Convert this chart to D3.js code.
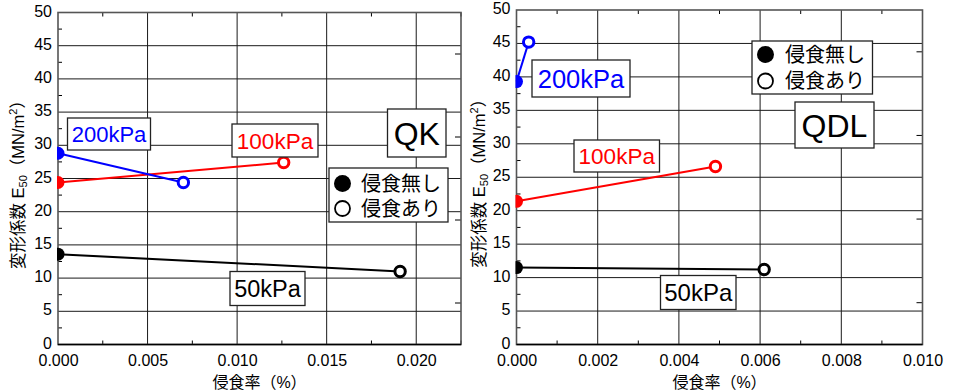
<!DOCTYPE html>
<html>
<head>
<meta charset="utf-8">
<script src="https://cdn.jsdelivr.net/npm/d3@7"></script>
<style>
  html, body { margin: 0; padding: 0; background: #fff; }
  svg { display: block; }
  text { font-family: "Liberation Sans", Arial, "Noto Sans CJK JP", sans-serif; }
</style>
</head>
<body>
<svg id="chart" width="958" height="392"></svg>
<script>
// Confining pressures (one line per pressure)
const pressures = ["50kPa", "100kPa", "200kPa"];

// QK: E50 before erosion (erosion rate 0) and after erosion
const qkIntactE50 = [13.6, 24.4, 28.8];
const qkErodedE50 = [11.0, 27.4, 24.4];
const qkErodedRate = [0.0191, 0.0126, 0.0070];

// QDL: E50 before erosion (erosion rate 0) and after erosion
const qdlIntactE50 = [11.5, 21.4, 39.3];
const qdlErodedE50 = [11.2, 26.6, 45.2];
const qdlErodedRate = [0.0061, 0.0049, 0.0003];

// Axis ticks
const yTicks = [0, 5, 10, 15, 20, 25, 30, 35, 40, 45, 50];
const qkXTicks = [0, 0.005, 0.010, 0.015, 0.020];
const qdlXTicks = [0, 0.002, 0.004, 0.006, 0.008, 0.010];

const legendLabels = ["侵食無し", "侵食あり"];
const xTitle = "侵食率（%）";

const colors = { "50kPa": "#000000", "100kPa": "#ff0000", "200kPa": "#0000ff" };

const svg = d3.select("#chart");

function drawPanel(cfg) {
  const { left, right, top, bottom } = cfg.frame;
  const x = d3.scaleLinear().domain(cfg.xDomain).range([left, right]);
  const y = d3.scaleLinear().domain([0, 50]).range([bottom, top]);
  const g = svg.append("g");

  // grid
  g.append("g").selectAll("line").data(cfg.xTicks.slice(1)).join("line")
    .attr("x1", d => x(d)).attr("x2", d => x(d)).attr("y1", top).attr("y2", bottom)
    .attr("stroke", "#1a1a1a").attr("stroke-width", 1);
  g.append("g").selectAll("line").data(yTicks.slice(1, -1)).join("line")
    .attr("x1", left).attr("x2", right).attr("y1", d => y(d)).attr("y2", d => y(d))
    .attr("stroke", "#1a1a1a").attr("stroke-width", 1);

  // minor ticks pointing into the plot
  const xStep = cfg.xTicks[1] - cfg.xTicks[0];
  const xMinor = d3.range(xStep / 2, cfg.xDomain[1] + 1e-9, xStep);
  const yMinor = d3.range(2.5, 50, 5);
  const yRight = [6.25, 18.75, 31.25, 43.75];
  const tk = g.append("g").attr("stroke", "#000").attr("stroke-width", 1);
  xMinor.forEach(v => {
    tk.append("line").attr("x1", x(v)).attr("x2", x(v)).attr("y1", bottom).attr("y2", bottom - 4);
    tk.append("line").attr("x1", x(v)).attr("x2", x(v)).attr("y1", top).attr("y2", top + 4);
  });
  yMinor.forEach(v => {
    tk.append("line").attr("x1", left).attr("x2", left + 4).attr("y1", y(v)).attr("y2", y(v));
  });
  yRight.forEach(v => {
    tk.append("line").attr("x1", right).attr("x2", right - 6).attr("y1", y(v)).attr("y2", y(v));
  });

  // frame
  g.append("rect").attr("x", left).attr("y", top)
    .attr("width", right - left).attr("height", bottom - top)
    .attr("fill", "none").attr("stroke", "#555").attr("stroke-width", 1.6);
  g.append("line").attr("x1", left).attr("x2", right).attr("y1", bottom).attr("y2", bottom)
    .attr("stroke", "#000").attr("stroke-width", 1.4);

  // axes labels (ticks drawn through d3 axes, tick lines hidden)
  const xAxis = g.append("g").attr("transform", `translate(0,${bottom})`)
    .call(d3.axisBottom(x).tickValues(cfg.xTicks).tickFormat(d3.format(".3f")).tickSize(0).tickPadding(10));
  const yAxis = g.append("g").attr("transform", `translate(${left},0)`)
    .call(d3.axisLeft(y).tickValues(yTicks).tickFormat(d3.format("d")).tickSize(0).tickPadding(6));
  [xAxis, yAxis].forEach(a => {
    a.select(".domain").remove();
    a.selectAll("text").attr("font-size", 16).attr("fill", "#000")
      .attr("font-family", "'Liberation Sans', Arial, sans-serif");
  });
  yAxis.selectAll("text").attr("dy", "0.22em");

  // x title
  g.append("text").attr("x", (left + right) / 2).attr("y", 388)
    .attr("text-anchor", "middle").attr("font-size", 16).attr("fill", "#000")
    .text(xTitle);

  // y title
  const yt = g.append("text")
    .attr("transform", `translate(${cfg.yTitleX},${(top + bottom) / 2 + 2}) rotate(-90)`)
    .attr("text-anchor", "middle").attr("font-size", 16.5).attr("fill", "#000");
  yt.append("tspan").text("変形係数 E");
  yt.append("tspan").attr("font-size", 11).attr("dy", 3).text("50");
  yt.append("tspan").attr("dy", -3).text("（MN/m");
  yt.append("tspan").attr("font-size", 11).attr("dy", -7).text("2");
  yt.append("tspan").attr("dy", 7).text("）");

  // clip for markers on the axis
  const clipId = "clip-" + cfg.id;
  svg.append("defs").append("clipPath").attr("id", clipId)
    .append("rect").attr("x", left - 1).attr("y", top - 10)
    .attr("width", right - left + 10).attr("height", bottom - top + 10);

  const series = pressures.map((p, i) => ({
    name: p,
    pts: [[0, cfg.intact[i]], [cfg.rate[i], cfg.eroded[i]]]
  }));

  const line = d3.line().x(d => x(d[0])).y(d => y(d[1]));
  const marks = g.append("g").attr("clip-path", `url(#${clipId})`);
  series.forEach(s => {
    marks.append("path").attr("d", line(s.pts)).attr("fill", "none")
      .attr("stroke", colors[s.name]).attr("stroke-width", 2);
  });
  series.forEach(s => {
    marks.append("circle").attr("cx", x(s.pts[0][0])).attr("cy", y(s.pts[0][1]))
      .attr("r", 6.5).attr("fill", colors[s.name]);
    marks.append("circle").attr("cx", x(s.pts[1][0])).attr("cy", y(s.pts[1][1]))
      .attr("r", 5.2).attr("fill", "#fff").attr("stroke", colors[s.name]).attr("stroke-width", 3);
  });

  // boxed annotations
  const notes = g.append("g");
  cfg.notes.forEach(n => {
    notes.append("rect").attr("x", n.box[0]).attr("y", n.box[1])
      .attr("width", n.box[2] - n.box[0]).attr("height", n.box[3] - n.box[1])
      .attr("fill", "#fff").attr("stroke", "#222").attr("stroke-width", 1.3);
    notes.append("text").attr("x", (n.box[0] + n.box[2]) / 2)
      .attr("y", (n.box[1] + n.box[3]) / 2).attr("dy", "0.36em")
      .attr("text-anchor", "middle").attr("font-size", n.size)
      .attr("fill", n.color).text(n.text);
  });

  // legend
  const L = cfg.legend;
  const lg = g.append("g");
  lg.append("rect").attr("x", L.box[0]).attr("y", L.box[1])
    .attr("width", L.box[2] - L.box[0]).attr("height", L.box[3] - L.box[1])
    .attr("fill", "#fff").attr("stroke", "#222").attr("stroke-width", 1.3);
  legendLabels.forEach((t, i) => {
    const cy = L.rows[i];
    if (i === 0) {
      lg.append("circle").attr("cx", L.markX).attr("cy", cy).attr("r", 8.5).attr("fill", "#000");
    } else {
      lg.append("circle").attr("cx", L.markX).attr("cy", cy).attr("r", 7.5)
        .attr("fill", "#fff").attr("stroke", "#000").attr("stroke-width", 1.8);
    }
    lg.append("text").attr("x", L.textX).attr("y", cy).attr("dy", "0.36em")
      .attr("font-size", 20).attr("fill", "#000")
      .attr("font-family", "'Noto Sans CJK JP', sans-serif").text(t);
  });
}

drawPanel({
  id: "qk",
  frame: { left: 58, right: 461, top: 12.5, bottom: 344.5 },
  xDomain: [0, 0.0225],
  xTicks: qkXTicks,
  intact: qkIntactE50, eroded: qkErodedE50, rate: qkErodedRate,
  yTitleX: 24,
  notes: [
    { text: "200kPa", color: colors["200kPa"], size: 22, box: [67.5, 118, 150.5, 150] },
    { text: "100kPa", color: colors["100kPa"], size: 22.5, box: [232, 124, 318, 157] },
    { text: "QK", color: "#000", size: 32, box: [387.5, 109, 446, 157] },
    { text: "50kPa", color: "#000", size: 23.5, box: [230, 271.5, 305, 305.5] }
  ],
  legend: { box: [329, 168, 448, 222], rows: [183.5, 208.5], markX: 342.5, textX: 361 }
});

drawPanel({
  id: "qdl",
  frame: { left: 516.5, right: 922.5, top: 10, bottom: 344.5 },
  xDomain: [0, 0.010],
  xTicks: qdlXTicks,
  intact: qdlIntactE50, eroded: qdlErodedE50, rate: qdlErodedRate,
  yTitleX: 485,
  notes: [
    { text: "200kPa", color: colors["200kPa"], size: 25.5, box: [532, 60, 630, 97] },
    { text: "100kPa", color: colors["100kPa"], size: 22.5, box: [574, 140, 659.5, 172] },
    { text: "QDL", color: "#000", size: 32, box: [795, 102, 874, 148] },
    { text: "50kPa", color: "#000", size: 24, box: [660.5, 275.5, 736, 309.5] }
  ],
  legend: { box: [752, 41, 872.5, 94], rows: [54.5, 81], markX: 765.5, textX: 785 }
});
</script>
</body>
</html>
